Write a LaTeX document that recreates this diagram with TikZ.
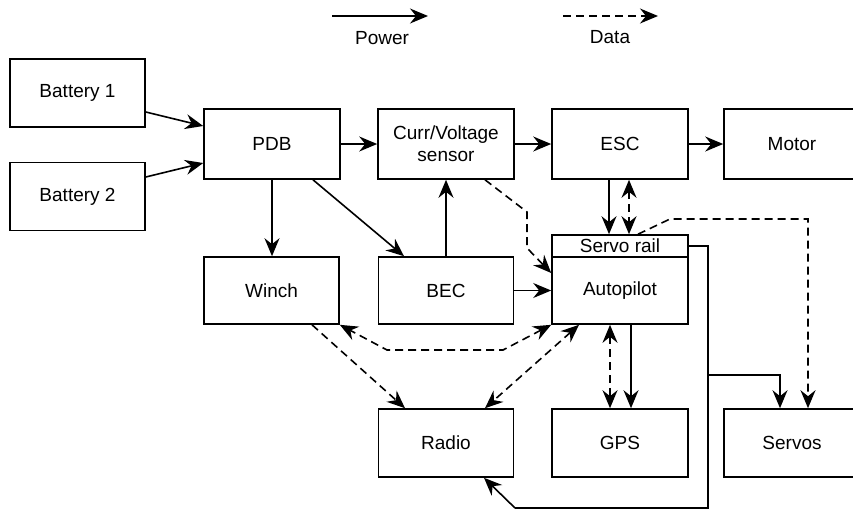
\documentclass[tikz,border=0pt]{standalone}
\usepackage{fontspec}
\setmainfont{Liberation Sans}
\usetikzlibrary{arrows.meta}
\begin{document}
\begin{tikzpicture}[x=1pt,y=-1pt,
  box/.style={draw, line width=1.6pt, rectangle, inner sep=0pt, minimum width=136pt, minimum height=68pt, font=\fontsize{19}{21}\selectfont, align=center},
  pw/.style={line width=1.6pt, -{Stealth[length=18pt,width=15pt,inset=6pt]}},
  dt/.style={pw, dash pattern=on 8pt off 5pt},
  dtb/.style={line width=1.6pt, {Stealth[length=18pt,width=15pt,inset=6pt]}-{Stealth[length=18pt,width=15pt,inset=6pt]}, dash pattern=on 8pt off 5pt},
  ln/.style={line width=1.6pt},
  lbl/.style={font=\fontsize{19}{21}\selectfont}
]
\useasboundingbox (0,0) rectangle (853,512);

% legend
\coordinate (pa) at (332,16);
\coordinate (pb) at (428,16);
\draw[pw] (pa) -- (pb);
\node[lbl] (plbl) at (382,38) {Power};
\coordinate (da) at (563,16);
\coordinate (db) at (658,16);
\draw[dt] (da) -- (db);
\node[lbl] (dlbl) at (610,37) {Data};

% boxes
\node[box, minimum width=135pt] (b1) at (77.5,93) {Battery 1};
\node[box, minimum width=135pt] (b2) at (77.5,196.5) {Battery 2};
\node[box, minimum height=70pt] (pdb) at (272,144) {PDB};
\node[box, minimum height=70pt] (cur) at (446,144) {Curr/Voltage\\[1pt]sensor};
\node[box, minimum height=70pt] (esc) at (620,144) {ESC};
\node[box, minimum height=70pt] (motor) at (792,144) {Motor};
\node[box, minimum width=135pt, minimum height=67pt] (winch) at (271.5,290.5) {Winch};
\node[box, minimum width=135pt, minimum height=67pt] (bec) at (446,290.5) {BEC};
\node[box, minimum height=22pt] (rail) at (620,246) {Servo rail};
\node[box, minimum height=67pt] (ap) at (620,290.5) {Autopilot};
\node[box, minimum width=135pt] (radio) at (446,443) {Radio};
\node[box] (gps) at (620,443) {GPS};
\node[box] (servos) at (792,443) {Servos};

% power connectors
\draw[pw] (b1.east |- 0,112) -- (pdb.west |- 0,126);
\draw[pw] (b2.east |- 0,177) -- (pdb.west |- 0,163);
\draw[pw] (pdb.east) -- (cur.west);
\draw[pw] (cur.east) -- (esc.west);
\draw[pw] (esc.east) -- (motor.west);
\draw[pw] (pdb.south) -- (winch.north -| pdb.south);
\draw[pw] (pdb.south -| 313,0) -- (bec.north -| 404,0);
\draw[pw] (bec.north) -- (cur.south);
\draw[pw] (bec.east) -- (ap.west);
\draw[pw] (esc.south -| 609,0) -- (rail.north -| 609,0);
\draw[pw] (ap.south -| 631,0) -- (gps.north -| 631,0);

% servo rail wiring
\coordinate (r1) at (708,246);
\coordinate (r2) at (708,375);
\coordinate (r3) at (708,508);
\coordinate (r4) at (515,508);
\coordinate (r5) at (780,375);
\draw[ln] (rail.east) -- (r1) -- (r3) -- (r4);
\draw[pw] (r4) -- (radio.south -| 484,0);
\draw[pw] (r2) -- (r5) -- (servos.north -| r5);

% data connectors
\draw[dtb] (esc.south -| 629,0) -- (rail.north -| 629,0);
\coordinate (c1) at (527,212);
\coordinate (c2) at (527,248);
\draw[dt] (cur.south -| 485,0) -- (c1) -- (c2) -- (ap.west |- 0,273);
\coordinate (s1) at (670,219);
\coordinate (s2) at (808,219);
\draw[dt] (rail.north -| 638,0) -- (s1) -- (s2) -- (servos.north -| s2);
\coordinate (w1) at (503,350);
\coordinate (w2) at (387,350);
\draw[dtb] (ap.south west) -- (w1) -- (w2) -- (winch.south east);
\draw[dt] (winch.south -| 312,0) -- (radio.north -| 405,0);
\draw[dtb] (ap.south -| 579,0) -- (radio.north -| 485,0);
\draw[dtb] (ap.south -| 610,0) -- (gps.north -| 610,0);
\end{tikzpicture}
\end{document}
